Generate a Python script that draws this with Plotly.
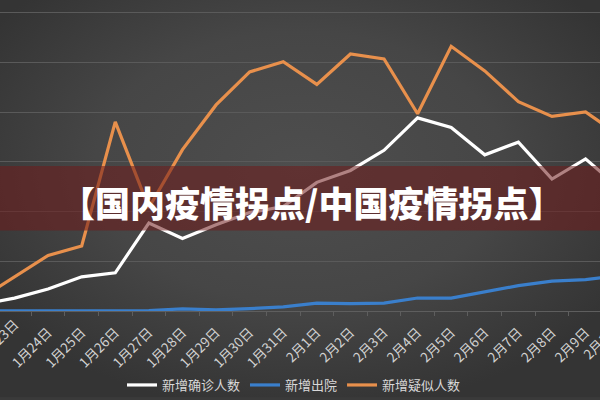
import base64
import plotly.graph_objects as go

dates = ["1月22日", "1月23日", "1月24日", "1月25日", "1月26日", "1月27日", "1月28日",
         "1月29日", "1月30日", "1月31日", "2月1日", "2月2日", "2月3日", "2月4日",
         "2月5日", "2月6日", "2月7日", "2月8日", "2月9日", "2月10日"]
confirmed = [131, 259, 444, 688, 769, 1771, 1459, 1737, 1982, 2102, 2590, 2829,
             3235, 3887, 3694, 3143, 3399, 2656, 3062, 2478]
discharged = [5, 6, 11, 3, 11, 9, 43, 21, 47, 85, 157, 147, 157, 262, 261, 387,
              510, 600, 632, 716]
suspected = [257, 680, 1118, 1309, 3806, 2077, 3248, 4148, 4812, 5019, 4562, 5173,
             5072, 3971, 5328, 4833, 4214, 3916, 4008, 3536]

names = ["新增确诊人数", "新增出院", "新增疑似人数"]
colors = ["#ffffff", "#3a7fcc", "#e8904c"]
title_text = "【国内疫情拐点/中国疫情拐点】"

FONT = "Noto Sans CJK SC"
W, H = 600, 400
plot_h = 313
x_range = [0.568, 18.43]

idx = list(range(len(dates)))
bounds = [i + 0.5 for i in idx]

svg = ('<svg xmlns="http://www.w3.org/2000/svg" width="600" height="400">'
       '<defs><radialGradient id="g" cx="50%" cy="42%" r="62%">'
       '<stop offset="0" stop-color="#4e4e4e"/><stop offset="0.55" stop-color="#464646"/>'
       '<stop offset="1" stop-color="#343434"/></radialGradient></defs>'
       '<rect width="600" height="400" fill="url(#g)"/></svg>')
bg_src = "data:image/svg+xml;base64," + base64.b64encode(svg.encode()).decode()

fig = go.Figure()
for name, vals, col in zip(names, [confirmed, discharged, suspected], colors):
    fig.add_trace(go.Scatter(x=idx, y=vals, name=name, mode="lines",
                             line=dict(color=col, width=3.2)))

fig.add_layout_image(source=bg_src, xref="paper", yref="paper", x=0, y=1,
                     sizex=1, sizey=H / plot_h, xanchor="left", yanchor="top",
                     sizing="stretch", layer="below")

fig.add_shape(type="rect", xref="paper", yref="paper", x0=0, x1=1,
              y0=1 - 232 / plot_h, y1=1 - 167 / plot_h,
              fillcolor="rgba(112,28,28,0.55)", line=dict(width=0), layer="above")

fig.add_annotation(text=title_text, xref="paper", yref="paper",
                   x=311 / W, y=1 - 203 / plot_h, showarrow=False,
                   font=dict(family=FONT, size=35, color="#ffffff", weight=900))

# date labels at the cropped edges (partially outside the picture, as in the source)
def frac(i):
    return (i - x_range[0]) / (x_range[1] - x_range[0])

for i in (1, idx[-1]):
    fig.add_annotation(text=dates[i], xref="paper", yref="paper",
                       x=frac(i) - 17 / W, y=-(341 - plot_h) / plot_h,
                       xanchor="center", yanchor="middle", showarrow=False, textangle=-45,
                       font=dict(family=FONT, size=13.5, color="#d2d2d2"))

fig.update_layout(
    width=W, height=H,
    margin=dict(l=0, r=0, t=0, b=H - plot_h),
    paper_bgcolor="#3a3a3a", plot_bgcolor="rgba(0,0,0,0)",
    font=dict(family=FONT, color="#d4d4d4"),
    showlegend=True,
    legend=dict(orientation="h", x=0.49, xanchor="center",
                y=(plot_h - 388) / plot_h, yanchor="middle",
                font=dict(size=13, color="#d8d8d8"), bgcolor="rgba(0,0,0,0)"),
    xaxis=dict(range=x_range, tickmode="array", tickvals=idx, ticktext=dates,
               tickangle=-45, ticks="", ticklabelstandoff=10,
               minor=dict(tickmode="array", tickvals=bounds, ticks="outside",
                          ticklen=4, tickcolor="#5e5e5e", showgrid=False),
               showgrid=False, showline=False, zeroline=False, fixedrange=True,
               tickfont=dict(size=13.5, color="#d2d2d2")),
    yaxis=dict(range=[0, 6260], dtick=1000, showticklabels=False,
               gridcolor="#5a5a5a", gridwidth=1, zeroline=True,
               zerolinecolor="#5e5e5e", zerolinewidth=1, fixedrange=True),
)

fig.write_html("out.html")
